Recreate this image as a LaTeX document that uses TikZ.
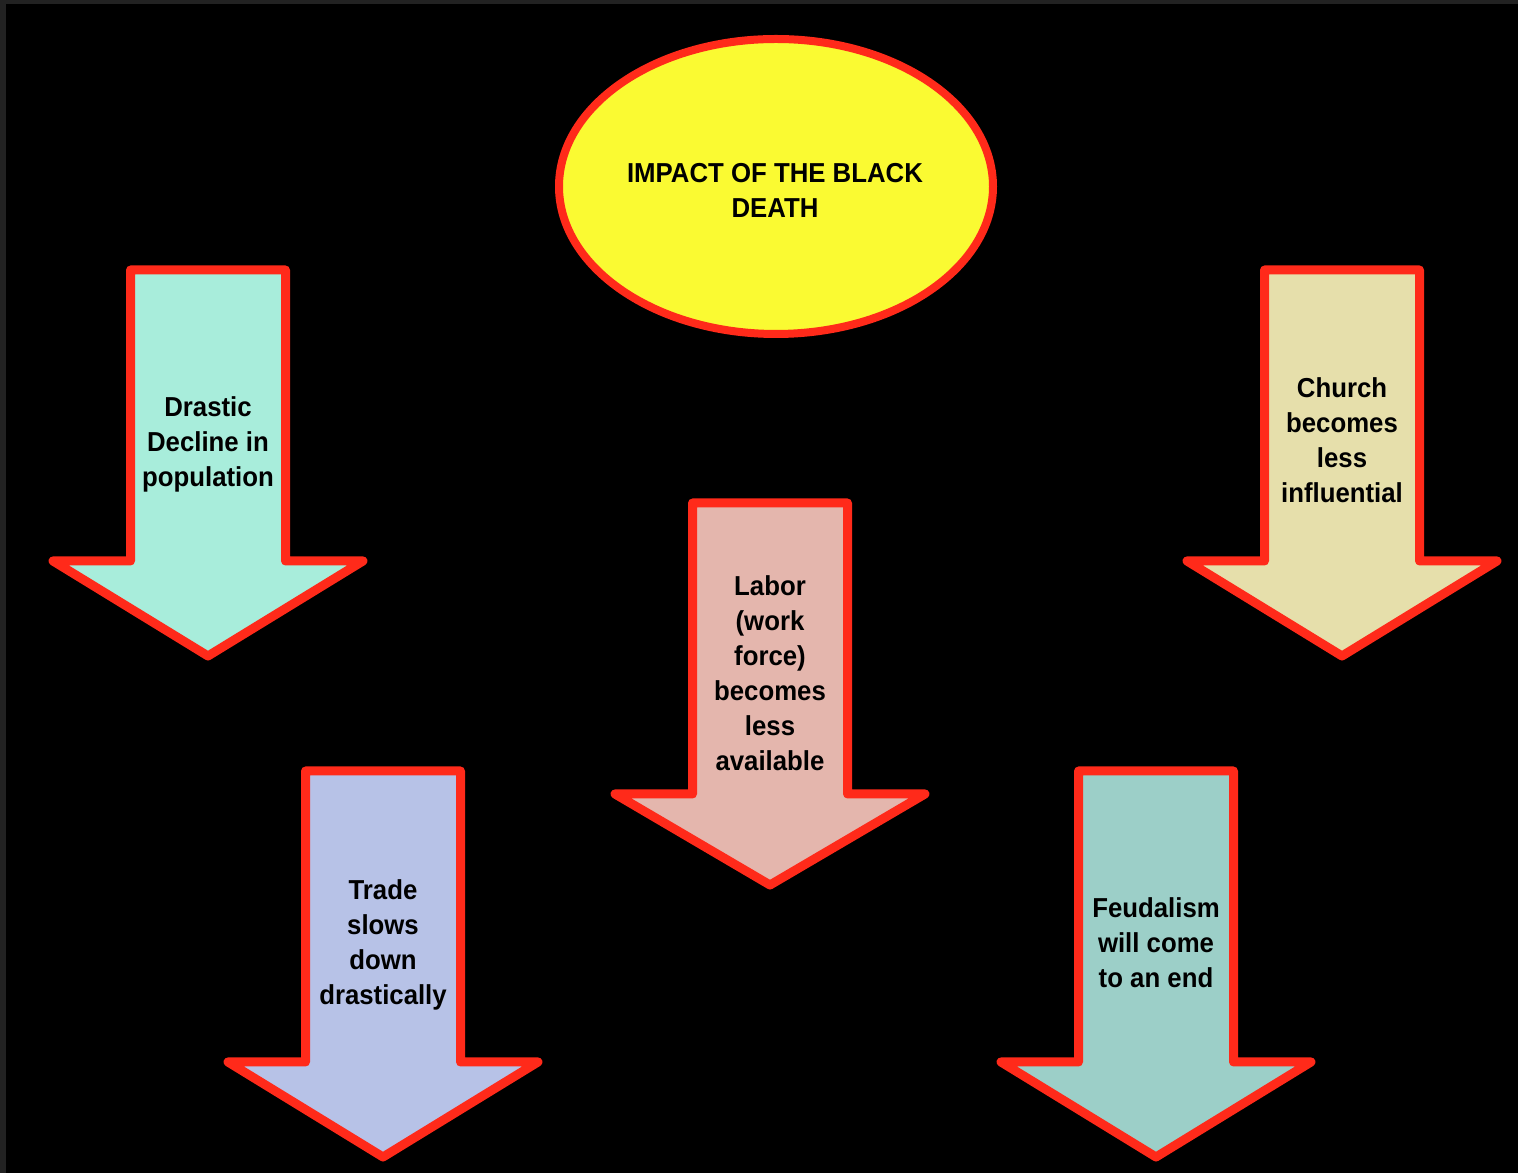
\documentclass[tikz,border=0pt]{standalone}
\usepackage{fontspec}
\setmainfont[FakeStretch=0.94]{Liberation Sans}
\usetikzlibrary{shapes.geometric}
\definecolor{rim}{HTML}{FF2A1A}
\definecolor{sun}{HTML}{FAFA32}
\definecolor{mint}{HTML}{A8EDDB}
\definecolor{sand}{HTML}{E6DFAB}
\definecolor{rose}{HTML}{E4B6AD}
\definecolor{lilac}{HTML}{B7C2E7}
\definecolor{teal}{HTML}{9CCFC8}
\definecolor{frame}{HTML}{222222}

\begin{document}
\begin{tikzpicture}[x=1cm,y=-1cm,line join=round,
    arrowbox/.style={draw=rim,line width=0.09cm},
    label/.style={align=center,inner sep=0pt,font=\bfseries\fontsize{7.8}{9.96}\selectfont}]
                \useasboundingbox (0,0) rectangle (15.18,11.73);
                \fill [frame] (0,0) rectangle (15.18,11.73);
                \fill [black] (0.06,0.04) rectangle (15.18,11.73);

                % title oval
                \draw[draw=rim,fill=sun,line width=0.08cm](7.76,1.865) ellipse(2.17 and 1.475);
                \node[label] (title) at(7.75,1.90) {IMPACT OF THE BLACK\\DEATH};

                % top row
                \draw[arrowbox,fill=mint](1.305,2.70)--(2.855,2.70)--(2.855,5.61)--(3.63,5.61)--(2.08,6.56)--(0.53,5.61)--(1.305,5.61)--cycle;
                \node[label] (decline) at(2.08,4.44) {Drastic\\Decline in\\population};

                \draw[arrowbox,fill=sand](12.645,2.70)--(14.195,2.70)--(14.195,5.61)--(14.97,5.61)--(13.42,6.56)--(11.87,5.61)--(12.645,5.61)--cycle;
                \node[label] (church) at(13.42,4.40) {Church\\becomes\\less\\influential};

                % middle
                \draw[arrowbox,fill=rose](6.925,5.03)--(8.475,5.03)--(8.475,7.94)--(9.25,7.94)--(7.70,8.85)--(6.15,7.94)--(6.925,7.94)--cycle;
                \node[label] (labor) at(7.70,6.73) {Labor\\(work\\force)\\becomes\\less\\available};

                % bottom row
                \draw[arrowbox,fill=lilac](3.055,7.71)--(4.605,7.71)--(4.605,10.62)--(5.38,10.62)--(3.83,11.57)--(2.28,10.62)--(3.055,10.62)--cycle;
                \node[label] (trade) at(3.83,9.45) {Trade\\slows\\down\\drastically};

                \draw[arrowbox,fill=teal](10.785,7.71)--(12.335,7.71)--(12.335,10.62)--(13.11,10.62)--(11.56,11.57)--(10.01,10.62)--(10.785,10.62)--cycle;
                \node[label] (feudal) at(11.56,9.43) {Feudalism\\will come\\to an end};
            \end{tikzpicture}
\end{document}
